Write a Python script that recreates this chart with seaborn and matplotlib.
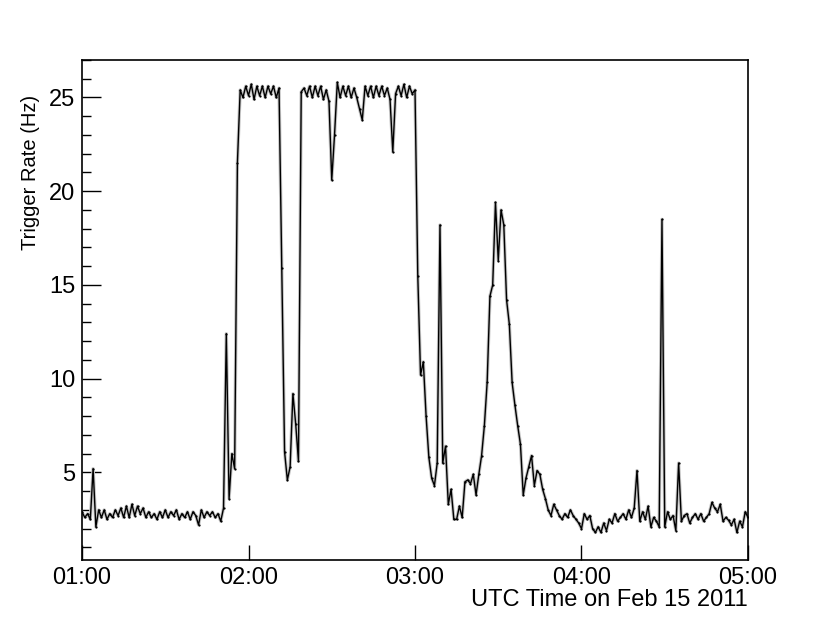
#!/usr/bin/env python3

import pandas as pd
import seaborn as sns
import matplotlib.pyplot as plt
import matplotlib.dates as mdates
import matplotlib.ticker as ticker

# one reading per minute, 01:00 .. 05:00 UTC
t_start = '2011-02-15 01:00'
t_end = '2011-02-15 05:00'

rate = [
    # 01:00 - 01:50
    2.9, 2.6, 2.8, 2.5, 5.2, 2.1, 3.0, 2.6, 3.0, 2.5,
    2.8, 2.6, 3.0, 2.7, 3.1, 2.6, 3.2, 2.6, 3.3, 2.7,
    3.2, 2.8, 3.1, 2.6, 2.9, 2.6, 2.8, 2.5, 2.9, 2.6,
    3.0, 2.6, 2.9, 2.7, 3.0, 2.5, 2.8, 2.6, 2.9, 2.5,
    2.9, 2.7, 2.2, 3.0, 2.6, 2.9, 2.7, 2.9, 2.6, 2.8,
    2.4,
    # 01:51 - 01:56
    3.1, 12.4, 3.6, 6.0, 5.2, 21.5,
    # 01:57 - 02:11
    25.4, 25.0, 25.6, 25.1, 25.7, 24.9, 25.6, 25.1, 25.6, 25.0,
    25.6, 25.2, 25.6, 25.0, 25.5,
    # 02:12 - 02:18
    15.9, 6.1, 4.6, 5.3, 9.2, 7.6, 5.6,
    # 02:19 - 03:00
    25.3, 25.5, 25.1, 25.6, 25.0, 25.6, 25.1, 25.6, 24.9, 25.4, 24.8,
    20.6, 23.0, 25.8, 25.0, 25.6, 25.1, 25.6, 25.0, 25.5, 25.0,
    24.4, 23.8, 25.6, 25.1, 25.6, 25.0, 25.6, 25.1, 25.6, 25.1,
    25.5, 24.9, 22.1, 25.2, 25.6, 25.1, 25.7, 25.0, 25.6, 25.2, 25.4,
    # 03:01 - 04:00
    15.5, 10.2, 10.9, 8.0, 5.8, 4.7, 4.3, 5.5, 18.2, 5.5,
    6.4, 3.3, 4.1, 2.5, 2.5, 3.2, 2.6, 4.5, 4.6, 4.4,
    4.9, 3.8, 4.9, 5.9, 7.5, 9.8, 14.4, 15.0, 19.4, 16.3,
    19.0, 18.2, 14.2, 12.9, 9.8, 8.6, 7.5, 6.5, 3.8, 4.7,
    5.3, 5.9, 4.3, 5.1, 4.9, 4.1, 3.6, 3.0, 2.7, 3.3,
    3.0, 2.7, 2.5, 2.8, 2.6, 3.0, 2.7, 2.5, 2.3, 2.0,
    # 04:01 - 05:00
    2.8, 2.5, 2.7, 2.0, 1.8, 2.1, 1.8, 2.3, 1.9, 2.5,
    2.3, 2.8, 2.4, 2.6, 2.8, 2.5, 3.0, 2.6, 3.1, 5.1,
    2.4, 2.9, 2.5, 3.2, 2.1, 2.6, 2.4, 2.1, 18.5, 2.1,
    2.9, 2.5, 2.7, 1.9, 5.5, 2.4, 2.7, 2.8, 2.3, 2.6,
    2.8, 2.5, 2.8, 2.4, 2.6, 2.8, 3.4, 3.1, 2.9, 3.3,
    2.4, 2.6, 2.45, 2.2, 2.5, 1.8, 2.4, 2.1, 2.9, 2.6,
]

y_major = [5, 10, 15, 20, 25]
x_label = 'UTC Time on Feb 15 2011'
y_label = 'Trigger Rate (Hz)'

tempo = pd.date_range(t_start, t_end, freq='1min')
df = pd.DataFrame({'time': tempo, 'rate': rate})

sns.set_theme(style='white')
plt.rcParams['font.family'] = ['Liberation Sans', 'DejaVu Sans']

fig = plt.figure(figsize=(8.3, 6.23), dpi=100)
ax = fig.add_axes([0.0988, 0.1011, 0.8024, 0.8026])

# grey band under the line, then the line with small point markers
sns.lineplot(data=df, x='time', y='rate', color='#c4c4c4', linewidth=2.4,
             errorbar=None, ax=ax)
sns.lineplot(data=df, x='time', y='rate', color='black', linewidth=1.0,
             marker='o', markersize=1.6, markeredgewidth=0, errorbar=None, ax=ax)

ax.set_xlim(tempo[0], tempo[-1])
ax.set_ylim(0.33, 27.0)

ax.xaxis.set_major_locator(mdates.HourLocator())
ax.xaxis.set_major_formatter(mdates.DateFormatter('%H:%M'))
ax.yaxis.set_major_locator(ticker.FixedLocator(y_major))
ax.yaxis.set_minor_locator(ticker.MultipleLocator(1))

ax.tick_params(axis='both', which='both', direction='in', colors='black',
               labelsize=17, bottom=True, left=True, top=False, right=False)
ax.tick_params(axis='y', which='major', length=13.7, width=1, pad=5)
ax.tick_params(axis='y', which='minor', length=6.7, width=1)
ax.tick_params(axis='x', which='major', length=10.8, width=1, pad=5)
ax.tick_params(axis='x', which='minor', length=0)

for spine in ax.spines.values():
    spine.set_color('black')
    spine.set_linewidth(1.2)

ax.set_xlabel(x_label, loc='right', fontsize=17, color='black')
ax.xaxis.set_label_coords(1.0, -0.058)
ax.set_ylabel(y_label, loc='top', fontsize=14.5, color='black')
ax.yaxis.set_label_coords(-0.063, 0.93)

fig.savefig('out.png', dpi=100)
